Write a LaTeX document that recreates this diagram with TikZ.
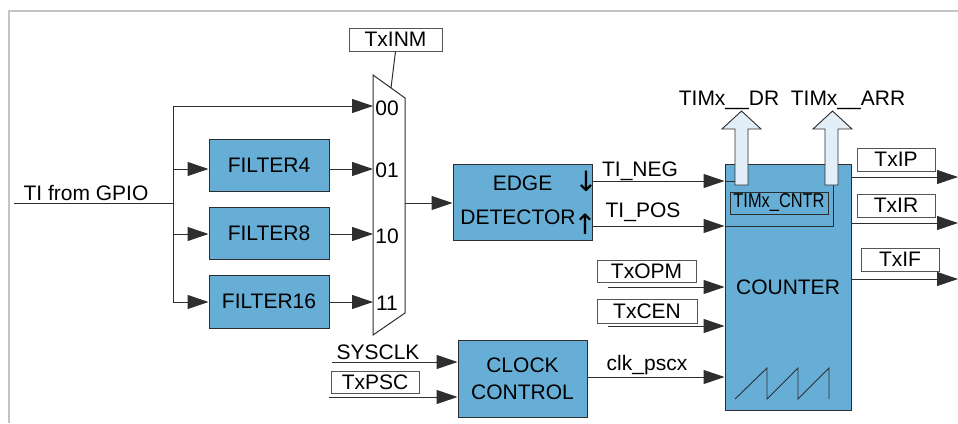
\documentclass[tikz,border=0pt]{standalone}
\usepackage{fontspec}
\setmainfont{Liberation Sans}
\newfontfamily\dv{DejaVu Sans}
\usetikzlibrary{arrows.meta}
\definecolor{boxblue}{HTML}{66AED6}
\definecolor{arrfill}{HTML}{E2EFF9}
\definecolor{edgec}{HTML}{2E2E2E}
\definecolor{framec}{HTML}{C4C4C4}
\definecolor{lblc}{HTML}{555555}
\begin{document}
\begin{tikzpicture}[x=1pt,y=-1pt,
  font=\fontsize{21}{24}\selectfont,
  blk/.style={draw=edgec, line width=1pt, fill=boxblue, inner sep=0pt},
  lbl/.style={draw=lblc, line width=0.9pt, fill=white, inner sep=0pt},
  wire/.style={draw=edgec, line width=1pt},
  arw/.style={wire, -{Triangle[length=21pt,width=14pt]}},
  txt/.style={inner sep=0pt, anchor=base},
  hollow/.style={draw=edgec, line width=0.9pt, fill=arrfill},
]
\useasboundingbox (0,0) rectangle (958,423);
\draw[framec, line width=1.5pt] (9,423) -- (9,11) -- (958,11);

% blocks
\node[blk, minimum width=120pt, minimum height=52pt] (f4) at (269,165) {FILTER4};
\node[blk, minimum width=120pt, minimum height=52pt] (f8) at (269,233) {FILTER8};
\node[blk, minimum width=120pt, minimum height=53pt] (f16) at (269,301.5) {FILTER16};
\node[blk, minimum width=139pt, minimum height=76pt] (ed) at (522.5,202) {};
\node[blk, minimum width=129pt, minimum height=77pt] (clk) at (522.5,378.5) {};
\node[blk, minimum width=126pt, minimum height=246pt] (ctr) at (788,287) {COUNTER};

% label boxes
\node[lbl, minimum width=93pt, minimum height=23pt] (inm) at (395.5,39.5) {TxINM};
\node[lbl, minimum width=88pt, minimum height=22pt] (psc) at (375,382) {TxPSC};
\node[lbl, minimum width=99pt, minimum height=22pt] (opm) at (646.5,271) {TxOPM};
\node[lbl, minimum width=100pt, minimum height=24pt] (cen) at (647,311) {TxCEN};
\node[lbl, minimum width=78pt, minimum height=23pt] (ip) at (896,159.5) {TxIP};
\node[lbl, minimum width=78pt, minimum height=23pt] (ir) at (896,205.5) {TxIR};
\node[lbl, minimum width=78pt, minimum height=23pt] (if) at (900,259.5) {TxIF};

% mux
\draw[draw=edgec, line width=1pt, fill=white] (373,75) -- (405,98) -- (405,313) -- (373,335) -- cycle;
\coordinate (mtop) at (391,88);
\coordinate (m00) at (373,106);
\coordinate (m01) at (373,169);
\coordinate (m10) at (373,234);
\coordinate (m11) at (373,302);
\coordinate (mout) at (405,203);
\node[txt] (t00) at (387,115) {00};
\node[txt] (t01) at (387,177.5) {01};
\node[txt] (t10) at (387,243) {10};
\node[txt] (t11) at (387,310) {11};
\draw[wire] (inm.south) -- (mtop);

% input bus
\coordinate (gpio) at (14,203);
\coordinate (bus) at (173,203);
\coordinate (bt) at (173,106);
\coordinate (bb) at (173,302);
\node[txt] (gpiot) at (86,200) {TI from GPIO};
\draw[wire] (gpio) -- (bus);
\draw[wire] (bt) -- (bb);
\draw[arw] (bt) -- (m00);
\draw[arw] (bus |- m01) -- (f4.west |- m01);
\draw[arw] (bus |- m10) -- (f8.west |- m10);
\draw[arw] (bb) -- (f16.west |- m11);
\draw[arw] (f4.east |- m01) -- (m01);
\draw[arw] (f8.east |- m10) -- (m10);
\draw[arw] (f16.east |- m11) -- (m11);
\draw[arw] (mout) -- (ed.west |- mout);

% edge detector text
\node[txt] (edt1) at (522.5,190) {EDGE};
\node[txt] (edt2) at (518,224) {DETECTOR};
\node[inner sep=0pt, font=\dv\fontsize{28}{30}\selectfont] (dn) at (586,181.5) {↓};
\node[inner sep=0pt, font=\dv\fontsize{28}{30}\selectfont] (up) at (585,224.5) {↑};

% clock control
\node[txt] (ct1) at (522.5,372) {CLOCK};
\node[txt] (ct2) at (522.5,399) {CONTROL};
\coordinate (sysL) at (332,362);
\coordinate (pscL) at (329,397);
\node[txt] (syst) at (378,359) {SYSCLK};
\draw[arw] (sysL) -- (clk.west |- sysL);
\draw[arw] (pscL) -- (clk.west |- pscL);

% counter inputs
\coordinate (negY) at (725,181);
\coordinate (posY) at (725,226);
\coordinate (opmL) at (608,287);
\coordinate (cenL) at (608,326);
\coordinate (clkY) at (725,377);
\node[txt] (negt) at (640,176) {TI\_NEG};
\node[txt] (post) at (643,217) {TI\_POS};
\node[txt] (pscx) at (647,370) {clk\_pscx};
\draw[arw] (ed.east |- negY) -- (ctr.west |- negY);
\draw[arw] (ed.east |- posY) -- (ctr.west |- posY);
\draw[arw] (opmL) -- (ctr.west |- opmL);
\draw[arw] (cenL) -- (ctr.west |- cenL);
\draw[arw] (clk.east |- clkY) -- (ctr.west |- clkY);

% register area inside counter
\draw[wire] (ctr.west |- negY) -- (736,181);
\draw[wire] (833,185) -- (833,226) -- (ctr.west |- posY);
\node[draw=edgec, line width=0.9pt, minimum width=98pt, minimum height=22pt, inner sep=0pt] (cntr) at (779,203)
  {\scalebox{0.82}[1]{\fontsize{20}{22}\selectfont TIMx\_CNTR}};

% hollow arrows
\draw[hollow] (735,185) -- (735,129) -- (722,129) -- (741.5,111) -- (761,129) -- (748,129) -- (748,185) -- cycle;
\draw[hollow] (825,185) -- (825,129) -- (813,129) -- (832.5,111) -- (852,129) -- (838,129) -- (838,185) -- cycle;
\node[txt] (drt) at (729,105) {TIMx\_\_DR};
\node[txt] (arrt) at (848,105) {TIMx\_\_ARR};

% saw tooth
\draw[edgec, line width=0.9pt] (735,399) -- (767,368) -- (767,399) -- (798,368) -- (798,399) -- (829,368) -- (829,399);

% outputs
\coordinate (ipR) at (958,177);
\coordinate (irR) at (958,223);
\coordinate (ifR) at (958,279);
\draw[arw] (ctr.east |- ipR) -- (ipR);
\draw[arw] (ctr.east |- irR) -- (irR);
\draw[arw] (ctr.east |- ifR) -- (ifR);
\end{tikzpicture}
\end{document}
